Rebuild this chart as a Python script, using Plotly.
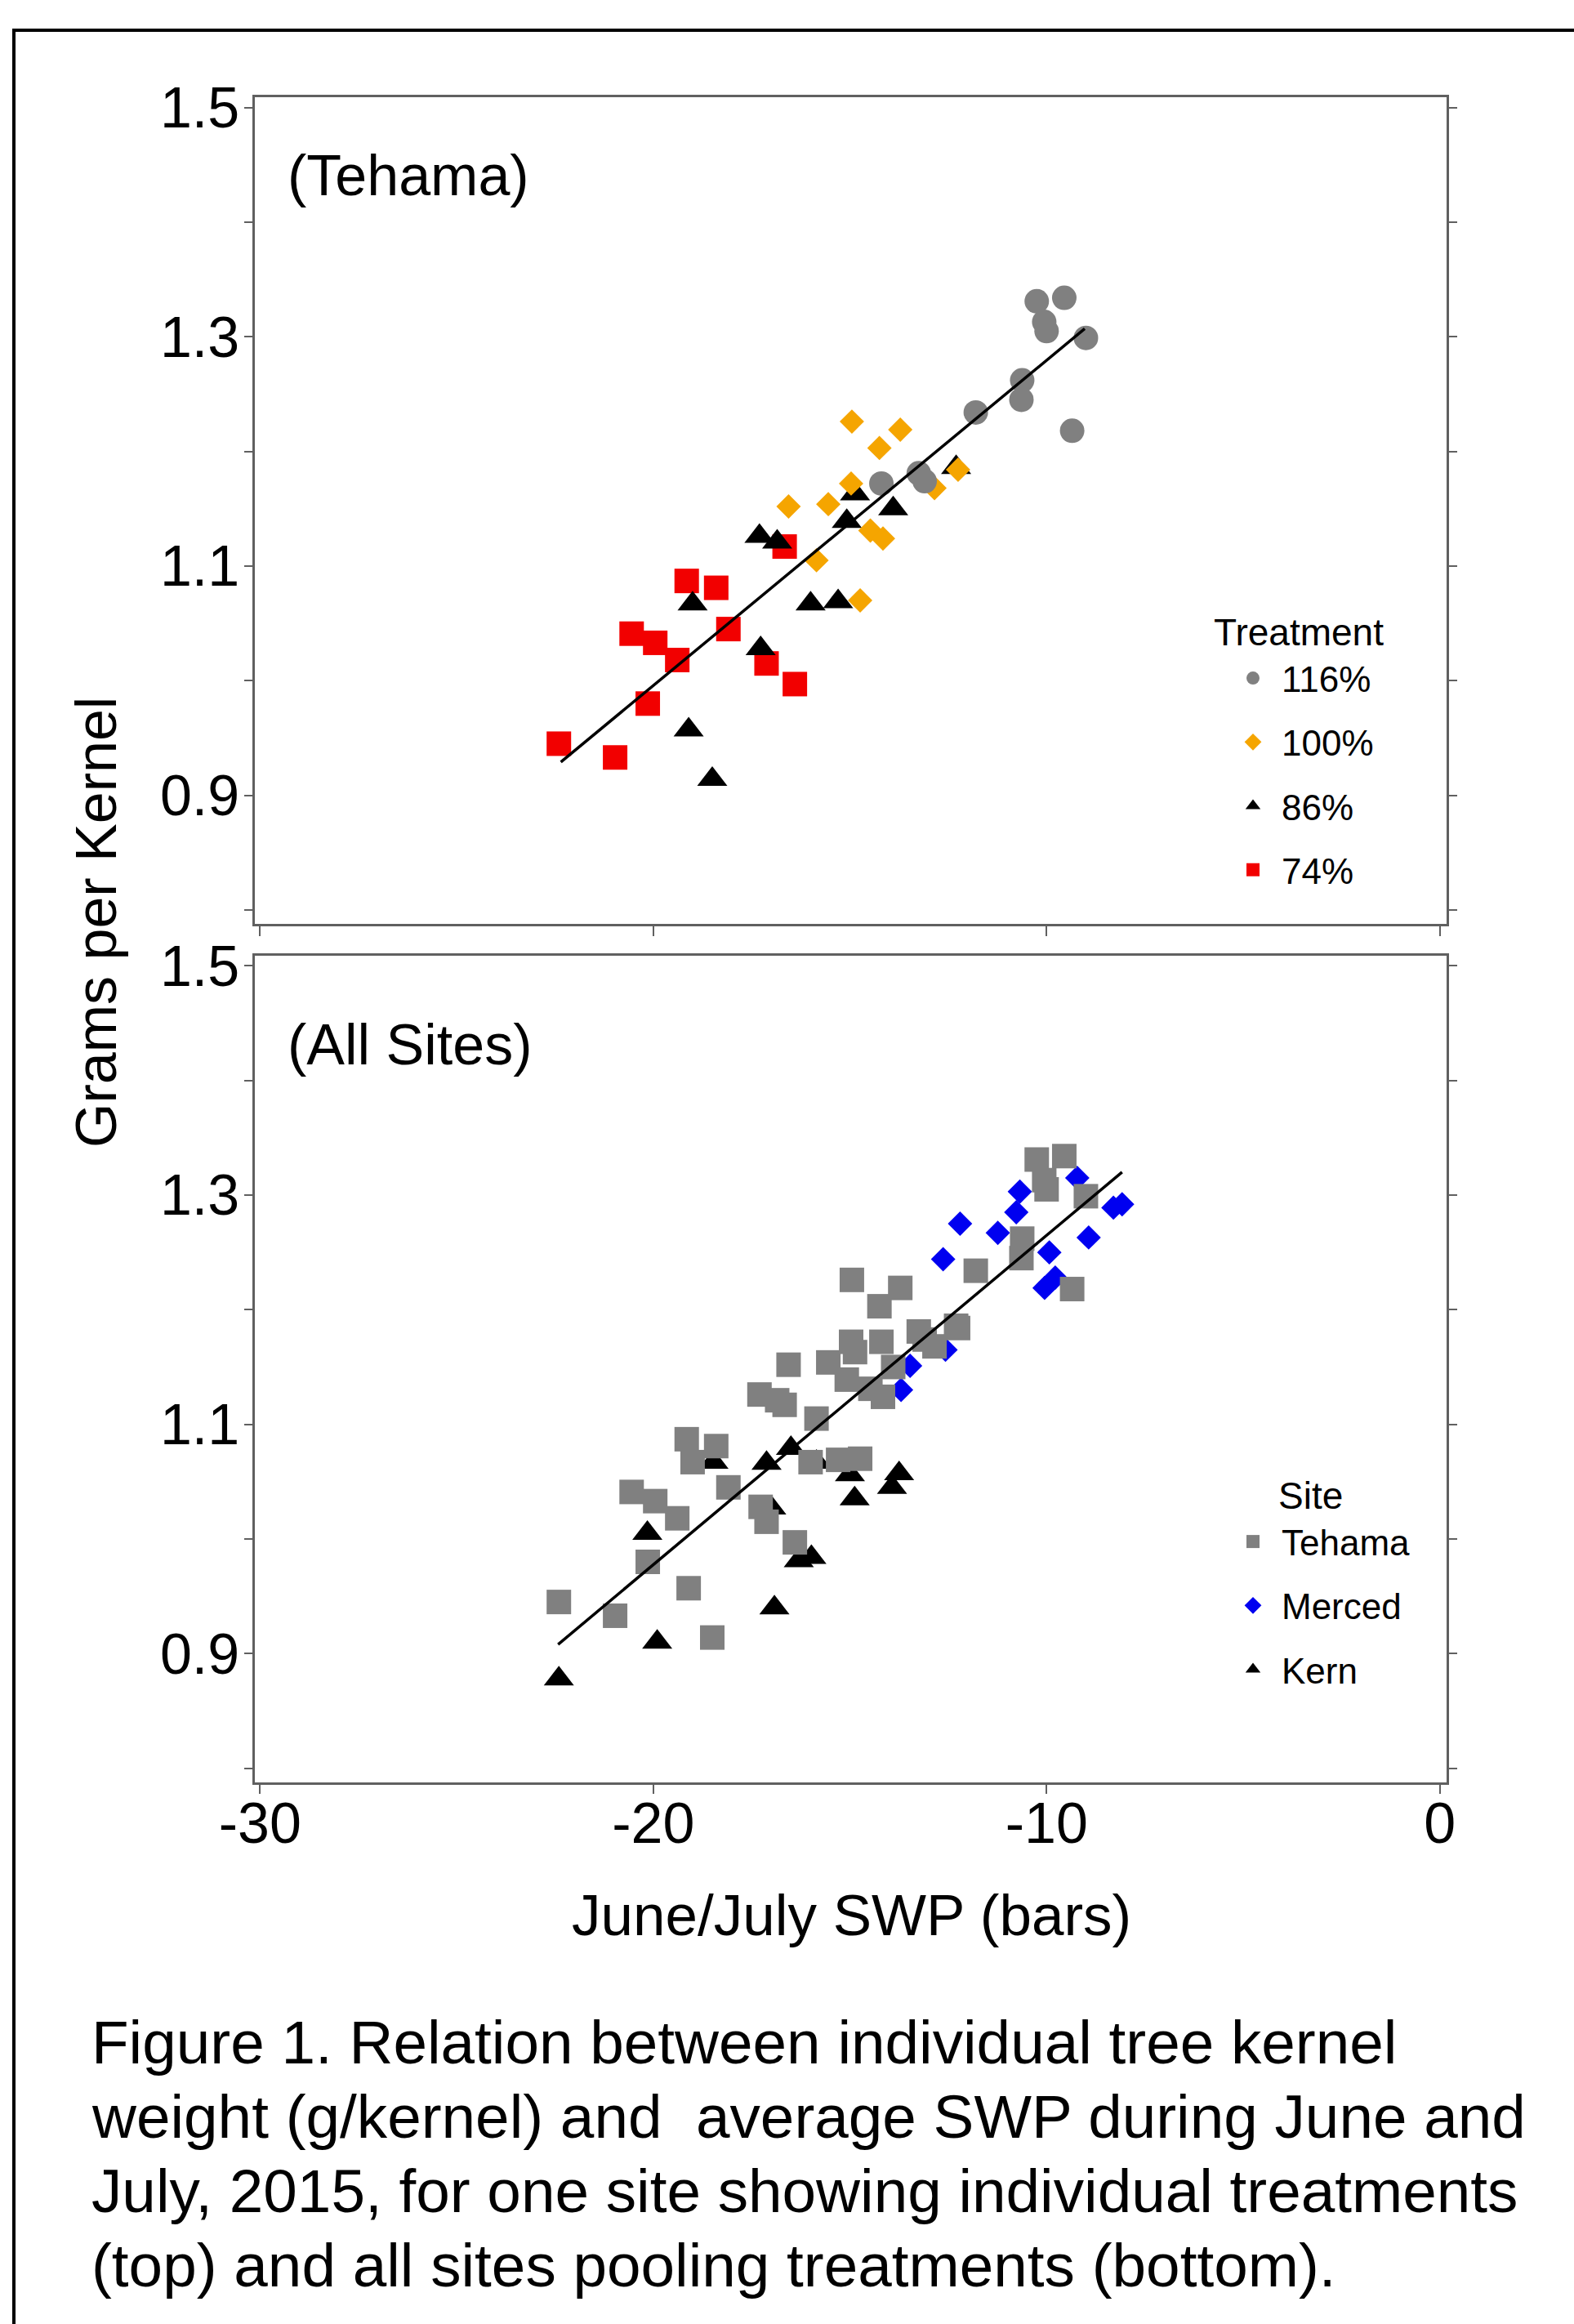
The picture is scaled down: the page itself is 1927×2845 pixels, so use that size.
import plotly.graph_objects as go

# ---------------- data ----------------
# Top panel: Tehama, by irrigation treatment
t116_x = [-10.25, -9.55, -10.06, -10.0, -9.0, -10.62, -10.64, -11.8, -9.35, -13.25, -13.1, -14.2]
t116_y = [1.331, 1.334, 1.313, 1.305, 1.299, 1.262, 1.245, 1.234, 1.218, 1.181, 1.174, 1.172]

t100_x = [-14.95, -13.72, -14.25, -14.97, -16.56, -15.55, -12.85, -12.25, -14.48, -14.16, -15.85, -14.74]
t100_y = [1.226, 1.219, 1.203, 1.172, 1.152, 1.154, 1.168, 1.184, 1.131, 1.124, 1.105, 1.070]

t86_x = [-12.3, -14.87, -13.9, -15.08, -17.3, -16.85, -19.0, -16.0, -15.3, -17.27, -19.1, -18.5]
t86_y = [1.186, 1.163, 1.150, 1.139, 1.126, 1.121, 1.067, 1.067, 1.069, 1.028, 0.957, 0.914]

t74_x = [-16.66, -19.15, -18.4, -20.55, -19.95, -18.09, -19.39, -17.12, -16.4, -20.14, -22.4, -20.97]
t74_y = [1.117, 1.087, 1.081, 1.041, 1.033, 1.045, 1.018, 1.015, 0.997, 0.980, 0.945, 0.933]

# Bottom panel: other sites
merced_x = [-9.22, -10.68, -10.77, -12.2, -11.24, -12.63, -9.93, -8.93, -8.3, -8.08, -9.78, -10.05, -12.57, -13.47, -13.7]
merced_y = [1.315, 1.303, 1.285, 1.275, 1.267, 1.244, 1.250, 1.263, 1.289, 1.292, 1.228, 1.219, 1.165, 1.151, 1.130]

kern_x = [-22.4, -19.9, -20.15, -16.92, -16.3, -15.98, -17.0, -14.88, -13.93, -13.75, -15.0, -15.85, -18.47, -17.12, -16.5]
kern_y = [0.878, 0.910, 1.005, 0.940, 0.981, 0.984, 1.027, 1.035, 1.045, 1.057, 1.056, 1.067, 1.067, 1.066, 1.079]

# Fitted regression lines (end points)
top_fit_x = [-22.35, -9.03]
top_fit_y = [0.929, 1.307]
all_fit_x = [-22.42, -8.08]
all_fit_y = [0.908, 1.320]

treat_names = ["116%", "100%", "86%", "74%"]
site_names = ["Tehama", "Merced", "Kern"]
legend_titles = ["Treatment", "Site"]

x_tick_vals = [-30, -20, -10, 0]
x_tick_text = ["-30", "-20", "-10", "0"]
y_tick_vals = [0.8, 0.9, 1.0, 1.1, 1.2, 1.3, 1.4, 1.5]
y_tick_text = ["", "0.9", "", "1.1", "", "1.3", "", "1.5"]

panel_labels = ["(Tehama)", "(All Sites)"]
y_title = "Grams per Kernel"
x_title = "June/July SWP (bars)"
caption_lines = [
    "Figure 1. Relation between individual tree kernel",
    "weight (g/kernel) and  average SWP during June and",
    "July, 2015, for one site showing individual treatments",
    "(top) and all sites pooling treatments (bottom).",
]

# Tehama site in bottom panel pools all treatments
tehama_x = t116_x + t100_x + t86_x + t74_x
tehama_y = t116_y + t100_y + t86_y + t74_y

# ---------------- layout helpers ----------------
W, H = 1927, 2845
FONT = "Liberation Sans, Arial, Helvetica, sans-serif"
AX = "#606060"


def fx(p):
    return p / W


def fy(p):
    return 1 - p / H


def mk(symbol, size, color):
    return dict(symbol=symbol, size=size, color=color, line=dict(width=0))


fig = go.Figure()

# top panel traces (added bottom -> top for drawing; legendrank sets legend order)
fig.add_trace(go.Scatter(x=t74_x, y=t74_y, mode="markers", name=treat_names[3],
                         marker=mk("square", 30, "#F20000"), legendrank=4,
                         xaxis="x", yaxis="y", legend="legend", legendgroup="t74"))
fig.add_trace(go.Scatter(x=t86_x, y=t86_y, mode="markers", name=treat_names[2],
                         marker=mk("triangle-up", 32, "#000000"), legendrank=3,
                         xaxis="x", yaxis="y", legend="legend", legendgroup="t86"))
fig.add_trace(go.Scatter(x=t100_x, y=t100_y, mode="markers", name=treat_names[1],
                         marker=mk("diamond", 23, "#F5A500"), legendrank=2,
                         xaxis="x", yaxis="y", legend="legend", legendgroup="t100"))
fig.add_trace(go.Scatter(x=t116_x, y=t116_y, mode="markers", name=treat_names[0],
                         marker=mk("circle", 30, "#808080"), legendrank=1,
                         xaxis="x", yaxis="y", legend="legend", legendgroup="t116"))
fig.add_trace(go.Scatter(x=top_fit_x, y=top_fit_y, mode="lines", showlegend=False,
                         line=dict(color="black", width=3.5), xaxis="x", yaxis="y"))

# bottom panel traces
fig.add_trace(go.Scatter(x=kern_x, y=kern_y, mode="markers", name=site_names[2],
                         marker=mk("triangle-up", 32, "#000000"), legendrank=3,
                         xaxis="x2", yaxis="y2", legend="legend2", legendgroup="kern"))
fig.add_trace(go.Scatter(x=merced_x, y=merced_y, mode="markers", name=site_names[1],
                         marker=mk("diamond", 23, "#0000F0"), legendrank=2,
                         xaxis="x2", yaxis="y2", legend="legend2", legendgroup="merced"))
fig.add_trace(go.Scatter(x=tehama_x, y=tehama_y, mode="markers", name=site_names[0],
                         marker=mk("square", 30, "#808080"), legendrank=1,
                         xaxis="x2", yaxis="y2", legend="legend2", legendgroup="tehama"))
fig.add_trace(go.Scatter(x=all_fit_x, y=all_fit_y, mode="lines", showlegend=False,
                         line=dict(color="black", width=3.5), xaxis="x2", yaxis="y2"))

x_dom = [fx(312), fx(1771)]
x_range = [-30.13, 0.17]
y_range = [0.7878, 1.5088]

common_x = dict(range=x_range, domain=x_dom, tickmode="array", tickvals=x_tick_vals, ticktext=x_tick_text,
                ticks="outside", ticklen=12, tickwidth=2, tickcolor=AX, showline=True, linecolor=AX,
                linewidth=2.5, mirror=True, showgrid=False, zeroline=False, automargin=False,
                ticklabelstandoff=-24,
                tickfont=dict(family=FONT, size=70, color="black"))
common_y = dict(range=y_range, tickmode="array", tickvals=y_tick_vals, ticktext=y_tick_text,
                ticks="outside", ticklen=10, tickwidth=2, tickcolor=AX, showline=True, linecolor=AX,
                linewidth=2.5, mirror="ticks", showgrid=False, zeroline=False, automargin=False,
                ticklabelstandoff=-8,
                tickfont=dict(family=FONT, size=70, color="black"))

legend_common = dict(xanchor="left", yanchor="top", bgcolor="rgba(0,0,0,0)", borderwidth=0,
                     traceorder="grouped", tracegroupgap=18, itemwidth=60,
                     font=dict(family=FONT, size=44, color="black"))

fig.update_layout(
    template="none",
    width=W, height=H,
    margin=dict(l=0, r=0, t=0, b=0),
    paper_bgcolor="white", plot_bgcolor="white",
    font=dict(family=FONT, color="black"),
    hovermode=False,
    xaxis=dict(common_x, anchor="y", showticklabels=False),
    yaxis=dict(common_y, anchor="x", domain=[fy(1131), fy(119.3)]),
    xaxis2=dict(common_x, anchor="y2", showticklabels=True),
    yaxis2=dict(common_y, anchor="x2", domain=[fy(2181.7), fy(1170)]),
    legend=dict(legend_common, x=fx(1499), y=fy(795)),
    legend2=dict(legend_common, x=fx(1499), y=fy(1852)),
)

annotations = [
    dict(text=panel_labels[0], x=fx(350), y=fy(215), xanchor="left", yanchor="middle",
         font=dict(family=FONT, size=70, color="black")),
    dict(text=panel_labels[1], x=fx(350), y=fy(1279), xanchor="left", yanchor="middle",
         font=dict(family=FONT, size=70, color="black")),
    dict(text=y_title, x=fx(118), y=fy(1129), xanchor="center", yanchor="middle", textangle=-90,
         font=dict(family=FONT, size=70, color="black")),
    dict(text=x_title, x=fx(1042), y=fy(2344), xanchor="center", yanchor="middle",
         font=dict(family=FONT, size=71, color="black")),
    dict(text=legend_titles[0], x=fx(1484), y=fy(774), xanchor="left", yanchor="middle",
         font=dict(family=FONT, size=46, color="black")),
    dict(text=legend_titles[1], x=fx(1563), y=fy(1831), xanchor="left", yanchor="middle",
         font=dict(family=FONT, size=46, color="black")),
]
for line, cy in zip(caption_lines, [2500, 2591, 2682, 2773]):
    annotations.append(dict(text=line, x=fx(110), y=fy(cy), xanchor="left", yanchor="middle",
                            font=dict(family=FONT, size=74.7, color="black")))
for a in annotations:
    a.update(xref="paper", yref="paper", showarrow=False)
fig.update_layout(annotations=annotations)

# outer frame of the figure (extends past the right and bottom edges)
fig.add_shape(type="rect", xref="paper", yref="paper",
              x0=fx(17), x1=fx(1960), y0=fy(2880), y1=fy(37),
              line=dict(color="black", width=4), fillcolor="rgba(0,0,0,0)", layer="below")

fig.write_html("out.html", config={"displayModeBar": False},
               post_script="document.body.style.margin='0px';document.body.style.padding='0px';")
